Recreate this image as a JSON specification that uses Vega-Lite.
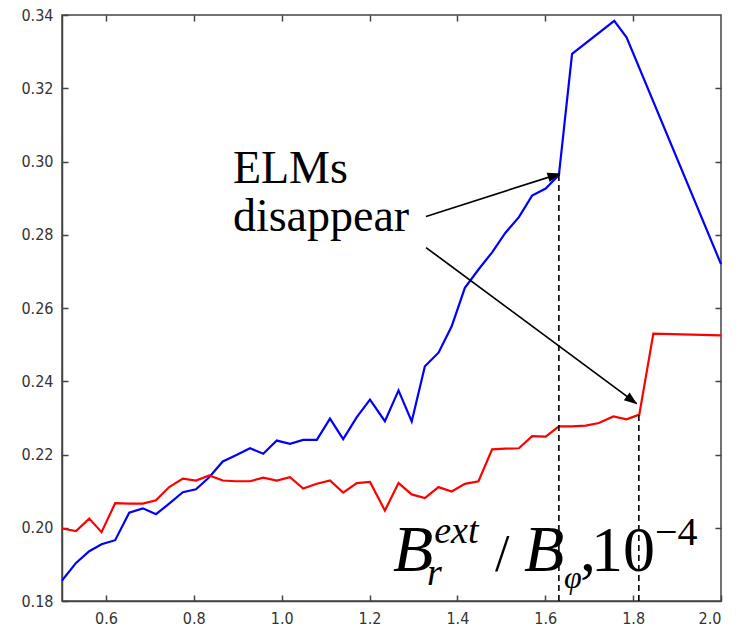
{
  "$schema": "https://vega.github.io/schema/vega-lite/v6.json",
  "width": 659,
  "height": 586,
  "autosize": {"type": "none"},
  "padding": {"left": 62, "top": 15, "right": 18, "bottom": 36},
  "background": "white",
  "config": {
    "view": {"stroke": "#444", "strokeWidth": 1.5},
    "axis": {
      "grid": false,
      "title": null,
      "domainColor": "#444",
      "domainWidth": 1.5,
      "tickColor": "#444",
      "tickWidth": 1.5,
      "tickSize": -6,
      "labelPadding": 15,
      "labelFont": "Liberation Sans Narrow, DejaVu Sans Condensed, Liberation Sans",
      "labelFontSize": 16,
      "labelColor": "#333"
    }
  },
  "datasets": {
    "series": [
      {"series": "A", "x": 0.500, "y": 0.1856},
      {"series": "A", "x": 0.532, "y": 0.1904},
      {"series": "A", "x": 0.562, "y": 0.1936},
      {"series": "A", "x": 0.590, "y": 0.1955},
      {"series": "A", "x": 0.621, "y": 0.1966},
      {"series": "A", "x": 0.653, "y": 0.2041},
      {"series": "A", "x": 0.684, "y": 0.2053},
      {"series": "A", "x": 0.714, "y": 0.2037},
      {"series": "A", "x": 0.744, "y": 0.2066},
      {"series": "A", "x": 0.775, "y": 0.2097},
      {"series": "A", "x": 0.805, "y": 0.2105},
      {"series": "A", "x": 0.835, "y": 0.2138},
      {"series": "A", "x": 0.866, "y": 0.2181},
      {"series": "A", "x": 0.896, "y": 0.2198},
      {"series": "A", "x": 0.928, "y": 0.2217},
      {"series": "A", "x": 0.958, "y": 0.2202},
      {"series": "A", "x": 0.989, "y": 0.2238},
      {"series": "A", "x": 1.019, "y": 0.2229},
      {"series": "A", "x": 1.049, "y": 0.2240},
      {"series": "A", "x": 1.080, "y": 0.2240},
      {"series": "A", "x": 1.110, "y": 0.2298},
      {"series": "A", "x": 1.140, "y": 0.2242},
      {"series": "A", "x": 1.171, "y": 0.2302},
      {"series": "A", "x": 1.201, "y": 0.2350},
      {"series": "A", "x": 1.235, "y": 0.2291},
      {"series": "A", "x": 1.266, "y": 0.2375},
      {"series": "A", "x": 1.296, "y": 0.2290},
      {"series": "A", "x": 1.326, "y": 0.2441},
      {"series": "A", "x": 1.357, "y": 0.2478},
      {"series": "A", "x": 1.387, "y": 0.2550},
      {"series": "A", "x": 1.417, "y": 0.2655},
      {"series": "A", "x": 1.448, "y": 0.2705},
      {"series": "A", "x": 1.479, "y": 0.2752},
      {"series": "A", "x": 1.509, "y": 0.2805},
      {"series": "A", "x": 1.540, "y": 0.2848},
      {"series": "A", "x": 1.570, "y": 0.2907},
      {"series": "A", "x": 1.601, "y": 0.2926},
      {"series": "A", "x": 1.631, "y": 0.2963},
      {"series": "A", "x": 1.661, "y": 0.3294},
      {"series": "A", "x": 1.757, "y": 0.3384},
      {"series": "A", "x": 1.785, "y": 0.3339},
      {"series": "A", "x": 2.000, "y": 0.2720},
      {"series": "B", "x": 0.500, "y": 0.1998},
      {"series": "B", "x": 0.532, "y": 0.1991},
      {"series": "B", "x": 0.562, "y": 0.2025},
      {"series": "B", "x": 0.590, "y": 0.1988},
      {"series": "B", "x": 0.621, "y": 0.2067},
      {"series": "B", "x": 0.653, "y": 0.2066},
      {"series": "B", "x": 0.684, "y": 0.2066},
      {"series": "B", "x": 0.714, "y": 0.2075},
      {"series": "B", "x": 0.744, "y": 0.2111},
      {"series": "B", "x": 0.775, "y": 0.2134},
      {"series": "B", "x": 0.805, "y": 0.2129},
      {"series": "B", "x": 0.835, "y": 0.2143},
      {"series": "B", "x": 0.866, "y": 0.2129},
      {"series": "B", "x": 0.896, "y": 0.2127},
      {"series": "B", "x": 0.928, "y": 0.2127},
      {"series": "B", "x": 0.958, "y": 0.2137},
      {"series": "B", "x": 0.989, "y": 0.2129},
      {"series": "B", "x": 1.019, "y": 0.2138},
      {"series": "B", "x": 1.049, "y": 0.2107},
      {"series": "B", "x": 1.080, "y": 0.2120},
      {"series": "B", "x": 1.110, "y": 0.2129},
      {"series": "B", "x": 1.140, "y": 0.2096},
      {"series": "B", "x": 1.171, "y": 0.2122},
      {"series": "B", "x": 1.201, "y": 0.2125},
      {"series": "B", "x": 1.235, "y": 0.2047},
      {"series": "B", "x": 1.266, "y": 0.2122},
      {"series": "B", "x": 1.296, "y": 0.2091},
      {"series": "B", "x": 1.326, "y": 0.2081},
      {"series": "B", "x": 1.357, "y": 0.2111},
      {"series": "B", "x": 1.387, "y": 0.2099},
      {"series": "B", "x": 1.417, "y": 0.2120},
      {"series": "B", "x": 1.448, "y": 0.2127},
      {"series": "B", "x": 1.479, "y": 0.2214},
      {"series": "B", "x": 1.509, "y": 0.2216},
      {"series": "B", "x": 1.540, "y": 0.2217},
      {"series": "B", "x": 1.570, "y": 0.2250},
      {"series": "B", "x": 1.601, "y": 0.2249},
      {"series": "B", "x": 1.631, "y": 0.2277},
      {"series": "B", "x": 1.661, "y": 0.2277},
      {"series": "B", "x": 1.692, "y": 0.2279},
      {"series": "B", "x": 1.722, "y": 0.2286},
      {"series": "B", "x": 1.755, "y": 0.2304},
      {"series": "B", "x": 1.785, "y": 0.2296},
      {"series": "B", "x": 1.814, "y": 0.2309},
      {"series": "B", "x": 1.846, "y": 0.2530},
      {"series": "B", "x": 2.000, "y": 0.2525}
    ],
    "dashes": [
      {"x": 1.631, "y": 0.18, "y2": 0.2963},
      {"x": 1.813, "y": 0.18, "y2": 0.2309}
    ],
    "arrows": [
      {"arrow": "upper", "x": 1.3286, "y": 0.2850, "x2": 1.6336, "y2": 0.2967},
      {"arrow": "lower", "x": 1.3286, "y": 0.2765, "x2": 1.8082, "y2": 0.2339}
    ],
    "heads": [
      {"arrow": "upper", "x": 1.6207, "y": 0.2962},
      {"arrow": "lower", "x": 1.7973, "y": 0.2348}
    ],
    "words": [
      {"label": "ELMs", "x": 0.889, "y": 0.2940},
      {"label": "disappear", "x": 0.889, "y": 0.2811}
    ],
    "bigItalic": [
      {"label": "B", "x": 1.2535, "y": 0.1881},
      {"label": "B", "x": 1.5517, "y": 0.1881}
    ],
    "smallItalic": [
      {"label": "ext", "x": 1.3472, "y": 0.1957},
      {"label": "r", "x": 1.3309, "y": 0.1843}
    ],
    "phi": [
      {"label": "φ", "x": 1.6427, "y": 0.1835}
    ],
    "slash": [
      {"label": "/", "x": 1.4857, "y": 0.1881}
    ],
    "bigUpright": [
      {"label": ",", "x": 1.6791, "y": 0.1881},
      {"label": "10", "x": 1.7042, "y": 0.1881}
    ],
    "smallUpright": [
      {"label": "−4", "x": 1.8499, "y": 0.1952}
    ]
  },
  "resolve": {"axis": {"x": "independent", "y": "independent"}},
  "layer": [
    {
      "data": {"name": "series"},
      "mark": {"type": "line", "strokeWidth": 2.2},
      "encoding": {
        "x": {"field": "x", "type": "quantitative", "scale": {"domain": [0.5, 2.0], "nice": false, "zero": false},
              "axis": {"orient": "bottom", "values": [0.6, 0.8, 1.0, 1.2, 1.4, 1.6, 1.8, 2.0], "format": ".1f"}},
        "y": {"field": "y", "type": "quantitative", "scale": {"domain": [0.18, 0.34], "nice": false, "zero": false},
              "axis": {"orient": "left", "values": [0.18, 0.20, 0.22, 0.24, 0.26, 0.28, 0.30, 0.32, 0.34], "format": ".2f"}},
        "color": {"field": "series", "type": "nominal", "scale": {"domain": ["A", "B"], "range": ["#0000ff", "#ff0000"]}, "legend": null}
      }
    },
    {
      "data": {"name": "dashes"},
      "mark": {"type": "rule", "strokeDash": [6, 4], "strokeWidth": 1.6, "color": "black"},
      "encoding": {
        "x": {"field": "x", "type": "quantitative",
              "axis": {"orient": "top", "values": [0.6, 0.8, 1.0, 1.2, 1.4, 1.6, 1.8], "labels": false, "domain": false}},
        "y": {"field": "y", "type": "quantitative",
              "axis": {"orient": "right", "values": [0.20, 0.22, 0.24, 0.26, 0.28, 0.30, 0.32], "labels": false, "domain": false}},
        "y2": {"field": "y2"}
      }
    },
    {
      "data": {"name": "arrows"},
      "mark": {"type": "rule", "strokeWidth": 1.7, "color": "black"},
      "encoding": {
        "x": {"field": "x", "type": "quantitative", "axis": null},
        "y": {"field": "y", "type": "quantitative", "axis": null},
        "x2": {"field": "x2"},
        "y2": {"field": "y2"}
      }
    },
    {
      "data": {"name": "heads"},
      "transform": [{"filter": "datum.arrow === 'upper'"}],
      "mark": {"type": "point", "shape": "M-1,-0.75L1,0L-1,0.75Z", "size": 169, "filled": true, "color": "black", "opacity": 1, "angle": 342.2},
      "encoding": {
        "x": {"field": "x", "type": "quantitative", "axis": null},
        "y": {"field": "y", "type": "quantitative", "axis": null}
      }
    },
    {
      "data": {"name": "heads"},
      "transform": [{"filter": "datum.arrow === 'lower'"}],
      "mark": {"type": "point", "shape": "M-1,-0.75L1,0L-1,0.75Z", "size": 169, "filled": true, "color": "black", "opacity": 1, "angle": 36.6},
      "encoding": {
        "x": {"field": "x", "type": "quantitative", "axis": null},
        "y": {"field": "y", "type": "quantitative", "axis": null}
      }
    },
    {
      "data": {"name": "words"},
      "mark": {"type": "text", "font": "Liberation Serif", "fontSize": 46, "align": "left", "baseline": "alphabetic", "color": "black"},
      "encoding": {
        "x": {"field": "x", "type": "quantitative", "axis": null},
        "y": {"field": "y", "type": "quantitative", "axis": null},
        "text": {"field": "label"}
      }
    },
    {
      "data": {"name": "bigItalic"},
      "mark": {"type": "text", "font": "Liberation Serif", "fontSize": 66, "fontStyle": "italic", "align": "left", "baseline": "alphabetic", "color": "black"},
      "encoding": {
        "x": {"field": "x", "type": "quantitative", "axis": null},
        "y": {"field": "y", "type": "quantitative", "axis": null},
        "text": {"field": "label"}
      }
    },
    {
      "data": {"name": "smallItalic"},
      "mark": {"type": "text", "font": "Liberation Serif", "fontSize": 38, "fontStyle": "italic", "align": "left", "baseline": "alphabetic", "color": "black"},
      "encoding": {
        "x": {"field": "x", "type": "quantitative", "axis": null},
        "y": {"field": "y", "type": "quantitative", "axis": null},
        "text": {"field": "label"}
      }
    },
    {
      "data": {"name": "phi"},
      "mark": {"type": "text", "font": "Liberation Serif", "fontSize": 32, "fontStyle": "italic", "align": "left", "baseline": "alphabetic", "color": "black"},
      "encoding": {
        "x": {"field": "x", "type": "quantitative", "axis": null},
        "y": {"field": "y", "type": "quantitative", "axis": null},
        "text": {"field": "label"}
      }
    },
    {
      "data": {"name": "slash"},
      "mark": {"type": "text", "font": "Liberation Serif", "fontSize": 52, "align": "left", "baseline": "alphabetic", "color": "black"},
      "encoding": {
        "x": {"field": "x", "type": "quantitative", "axis": null},
        "y": {"field": "y", "type": "quantitative", "axis": null},
        "text": {"field": "label"}
      }
    },
    {
      "data": {"name": "bigUpright"},
      "mark": {"type": "text", "font": "Liberation Serif", "fontSize": 64, "align": "left", "baseline": "alphabetic", "color": "black"},
      "encoding": {
        "x": {"field": "x", "type": "quantitative", "axis": null},
        "y": {"field": "y", "type": "quantitative", "axis": null},
        "text": {"field": "label"}
      }
    },
    {
      "data": {"name": "smallUpright"},
      "mark": {"type": "text", "font": "Liberation Serif", "fontSize": 40, "align": "left", "baseline": "alphabetic", "color": "black"},
      "encoding": {
        "x": {"field": "x", "type": "quantitative", "axis": null},
        "y": {"field": "y", "type": "quantitative", "axis": null},
        "text": {"field": "label"}
      }
    }
  ]
}
